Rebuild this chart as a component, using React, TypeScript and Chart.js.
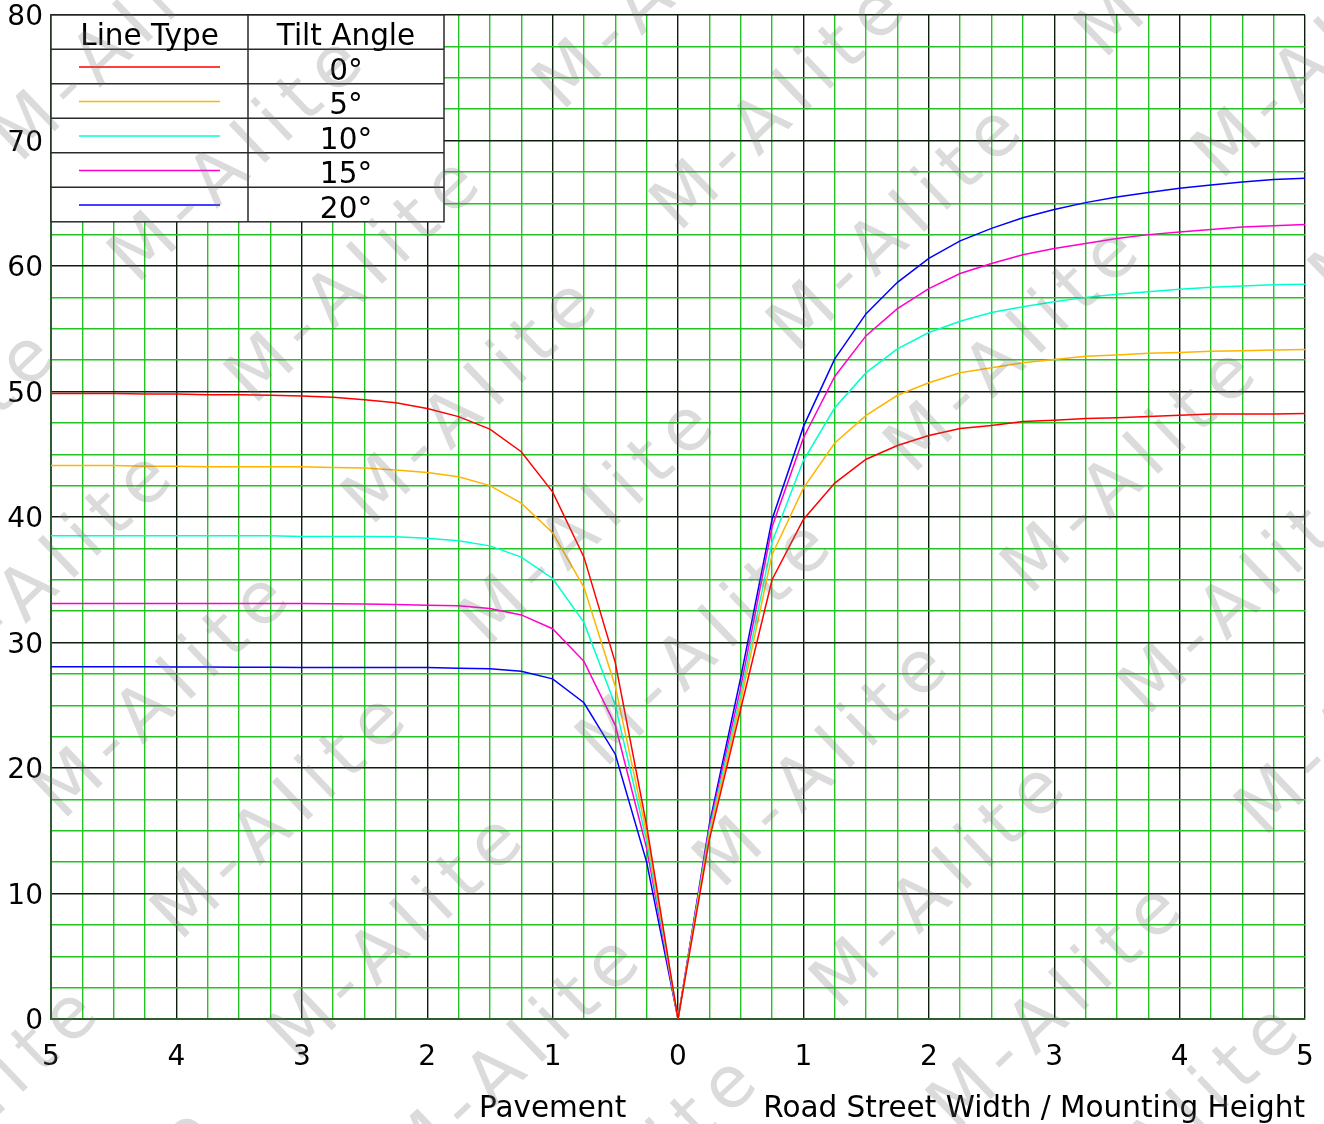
import React, { useEffect, useRef } from "react";
import { Chart, registerables } from "chart.js";

Chart.register(...registerables);

// ---------- data ----------
const xValues = [
  -5, -4.75, -4.5, -4.25, -4, -3.75, -3.5, -3.25, -3, -2.75, -2.5, -2.25, -2, -1.75, -1.5, -1.25, -1, -0.75, -0.5, -0.25,
  0, 0.25, 0.5, 0.75, 1, 1.25, 1.5, 1.75, 2, 2.25, 2.5, 2.75, 3, 3.25, 3.5, 3.75, 4, 4.25, 4.5, 4.75, 5,
];

const tilt0 = [
  49.85, 49.85, 49.85, 49.8, 49.8, 49.75, 49.75, 49.7, 49.65, 49.55, 49.35, 49.1, 48.65, 48.0, 47.0, 45.2, 42.0, 36.8, 28.4, 15.4,
  0, 14.3, 24.7, 35.0, 39.8, 42.7, 44.6, 45.7, 46.5, 47.05, 47.3, 47.6, 47.7, 47.85, 47.9, 48.0, 48.1, 48.2, 48.2, 48.2, 48.25,
];
const tilt5 = [
  44.1, 44.1, 44.1, 44.05, 44.05, 44.0, 44.0, 44.0, 44.0, 43.95, 43.9, 43.75, 43.55, 43.2, 42.5, 41.1, 38.75, 34.4, 26.5, 14.8,
  0, 14.7, 25.3, 37.0, 42.3, 45.9, 48.1, 49.7, 50.7, 51.5, 51.9, 52.3, 52.55, 52.8, 52.9, 53.05, 53.1, 53.2, 53.25, 53.3, 53.35,
];
const tilt10 = [
  38.5, 38.5, 38.5, 38.5, 38.5, 38.5, 38.5, 38.5, 38.45, 38.45, 38.45, 38.43, 38.3, 38.1, 37.7, 36.8, 35.1, 31.6, 25.0, 14.2,
  0, 15.0, 25.8, 38.0, 44.5, 48.7, 51.5, 53.4, 54.7, 55.6, 56.3, 56.75, 57.15, 57.5, 57.75, 57.95, 58.15, 58.3, 58.4, 58.5, 58.55,
];
const tilt15 = [
  33.1, 33.1, 33.1, 33.1, 33.1, 33.1, 33.1, 33.1, 33.1, 33.08, 33.07, 33.02, 32.96, 32.93, 32.7, 32.2, 31.1, 28.5, 23.4, 13.6,
  0, 15.3, 26.4, 39.2, 46.3, 51.2, 54.45, 56.6, 58.2, 59.4, 60.2, 60.9, 61.4, 61.8, 62.2, 62.5, 62.7, 62.9, 63.1, 63.2, 63.3,
];
const tilt20 = [
  28.07, 28.07, 28.06, 28.06, 28.05, 28.04, 28.03, 28.02, 28.0, 28.0, 28.0, 28.0, 28.0, 27.95, 27.9, 27.7, 27.1, 25.2, 21.1, 12.5,
  0, 15.5, 27.2, 39.8, 47.2, 52.6, 56.2, 58.7, 60.6, 62.0, 63.0, 63.85, 64.5, 65.05, 65.5, 65.85, 66.2, 66.45, 66.7, 66.9, 67.0,
];

const seriesLabels = ["0°", "5°", "10°", "15°", "20°"];
const legendHeaders = ["Line Type", "Tilt Angle"];
const pavementTitle = "Pavement";
const roadTitle = "Road Street Width / Mounting Height";
const pavementTitleAt = -1;
const watermarkText = "M-AIite";

// ---------- styles ----------
const seriesColors = ["#ff0000", "#ffb400", "#00ffcc", "#ff00cc", "#0000ff"];
const FONT = '"DejaVu Sans", Verdana, sans-serif';
const MAJOR = "#0e1e0e";
const MINOR = "#22c322";

const isMult = (v: number, m: number) => Math.abs(v / m - Math.round(v / m)) < 1e-6;

export default function App() {
  const ref = useRef<HTMLCanvasElement>(null);

  useEffect(() => {
    const canvas = ref.current;
    if (!canvas) return;
    const series = [tilt0, tilt5, tilt10, tilt15, tilt20];
    const datasets = series.map((vals, i) => ({
      label: seriesLabels[i],
      data: vals.map((y, k) => ({ x: xValues[k], y })),
      borderColor: seriesColors[i],
      backgroundColor: seriesColors[i],
      borderWidth: 1.5,
      pointRadius: 0,
      fill: false,
      tension: 0,
    }));

    const legendTable = {
      id: "legendTable",
      afterDatasetsDraw(chart: any) {
        const { ctx, chartArea: ca } = chart;
        const left = ca.left;
        const top = ca.top;
        const w = 393;
        const colW = 197;
        const headH = 34.3;
        const rowH = 34.5;
        const h = headH + rowH * seriesLabels.length;
        ctx.save();
        ctx.fillStyle = "#ffffff";
        ctx.fillRect(left, top, w, h);
        ctx.strokeStyle = "#2a2a2a";
        ctx.lineWidth = 1.5;
        ctx.strokeRect(left, top, w, h);
        ctx.beginPath();
        ctx.moveTo(left + colW, top);
        ctx.lineTo(left + colW, top + h);
        for (let r = 0; r < seriesLabels.length; r++) {
          const y = top + headH + rowH * r;
          ctx.moveTo(left, y);
          ctx.lineTo(left + w, y);
        }
        ctx.stroke();
        ctx.fillStyle = "#000";
        ctx.font = `29.5px ${FONT}`;
        ctx.textAlign = "center";
        ctx.textBaseline = "alphabetic";
        ctx.fillText(legendHeaders[0], left + colW / 2, top + 29.5);
        ctx.fillText(legendHeaders[1], left + colW + (w - colW) / 2, top + 29.5);
        seriesLabels.forEach((lab, r) => {
          const rt = top + headH + rowH * r;
          ctx.strokeStyle = seriesColors[r];
          ctx.lineWidth = 1.5;
          ctx.beginPath();
          ctx.moveTo(left + 28, rt + rowH / 2 + 0.5);
          ctx.lineTo(left + 169, rt + rowH / 2 + 0.5);
          ctx.stroke();
          ctx.fillStyle = "#000";
          ctx.fillText(lab, left + colW + (w - colW) / 2, rt + 30.5);
        });
        ctx.restore();
      },
    };

    const axisTitles = {
      id: "axisTitles",
      afterDraw(chart: any) {
        const { ctx, chartArea: ca } = chart;
        const xs = chart.scales.x;
        ctx.save();
        ctx.fillStyle = "#000";
        ctx.font = `29.5px ${FONT}`;
        ctx.textBaseline = "alphabetic";
        ctx.textAlign = "center";
        ctx.fillText(pavementTitle, xs.getPixelForValue(pavementTitleAt), ca.bottom + 98);
        ctx.textAlign = "right";
        ctx.fillText(roadTitle, ca.right, ca.bottom + 98);
        ctx.restore();
      },
    };

    const watermark = {
      id: "watermark",
      afterDraw(chart: any) {
        const ctx = chart.ctx;
        ctx.save();
        const fs = 72;
        ctx.font = `${fs}px ${FONT}`;
        ctx.fillStyle = "rgba(110,110,110,0.25)";
        ctx.textBaseline = "alphabetic";
        ctx.textAlign = "left";
        const ang = -Math.atan2(294, 308);
        const chars = watermarkText.split("");
        const widths = chars.map((c) => ctx.measureText(c).width);
        const spacing = 11;
        const capH = fs * 0.73;
        for (let i = -10; i <= 14; i++) {
          for (let j = -6; j <= 8; j++) {
            const cx = 141 + i * 117 + j * 308;
            const cy = 245 + i * 121 - j * 294;
            if (cx < -500 || cx > 1800 || cy < -400 || cy > 1600) continue;
            ctx.save();
            ctx.translate(cx, cy);
            ctx.rotate(ang);
            let x = -widths[0] / 2;
            chars.forEach((c, k) => {
              ctx.fillText(c, x, capH / 2);
              x += widths[k] + spacing;
            });
            ctx.restore();
          }
        }
        ctx.restore();
      },
    };

    const chart = new Chart(canvas, {
      type: "line",
      data: { datasets },
      plugins: [legendTable, axisTitles, watermark],
      options: {
        responsive: false,
        animation: false,
        devicePixelRatio: 1,
        layout: { padding: { top: 15, right: 19, left: 0, bottom: 0 } },
        plugins: { legend: { display: false }, tooltip: { enabled: false } },
        elements: { line: { tension: 0 } },
        scales: {
          x: {
            type: "linear",
            min: -5,
            max: 5,
            afterFit: (s: any) => {
              s.height = 105;
              s.paddingLeft = 0;
              s.paddingRight = 0;
            },
            ticks: {
              stepSize: 0.25,
              autoSkip: false,
              maxRotation: 0,
              padding: 22,
              color: "#000",
              font: { family: FONT, size: 28 },
              callback: (v: any) => (isMult(Number(v), 1) ? String(Math.abs(Math.round(Number(v)))) : ""),
            },
            grid: {
              drawTicks: false,
              lineWidth: 1.4,
              color: (c: any) => (c.tick && isMult(c.tick.value, 1) ? MAJOR : MINOR),
            },
            border: { color: "#2d5d2d", width: 2 },
          },
          y: {
            type: "linear",
            min: 0,
            max: 80,
            afterFit: (s: any) => {
              s.width = 51;
              s.paddingTop = 0;
              s.paddingBottom = 0;
            },
            ticks: {
              stepSize: 2.5,
              autoSkip: false,
              padding: 8,
              labelOffset: 3,
              color: "#000",
              font: { family: FONT, size: 28 },
              callback: (v: any) => (isMult(Number(v), 10) ? String(Math.round(Number(v))) : ""),
            },
            grid: {
              drawTicks: false,
              lineWidth: 1.4,
              color: (c: any) => (c.tick && isMult(c.tick.value, 10) ? MAJOR : MINOR),
            },
            border: { color: "#2d5d2d", width: 2 },
          },
        },
      },
    });
    return () => chart.destroy();
  }, []);

  return (
    <div style={{ position: "absolute", left: 0, top: 0, width: 1324, height: 1124, background: "#fff" }}>
      <canvas ref={ref} width={1324} height={1124} style={{ display: "block" }} />
    </div>
  );
}
